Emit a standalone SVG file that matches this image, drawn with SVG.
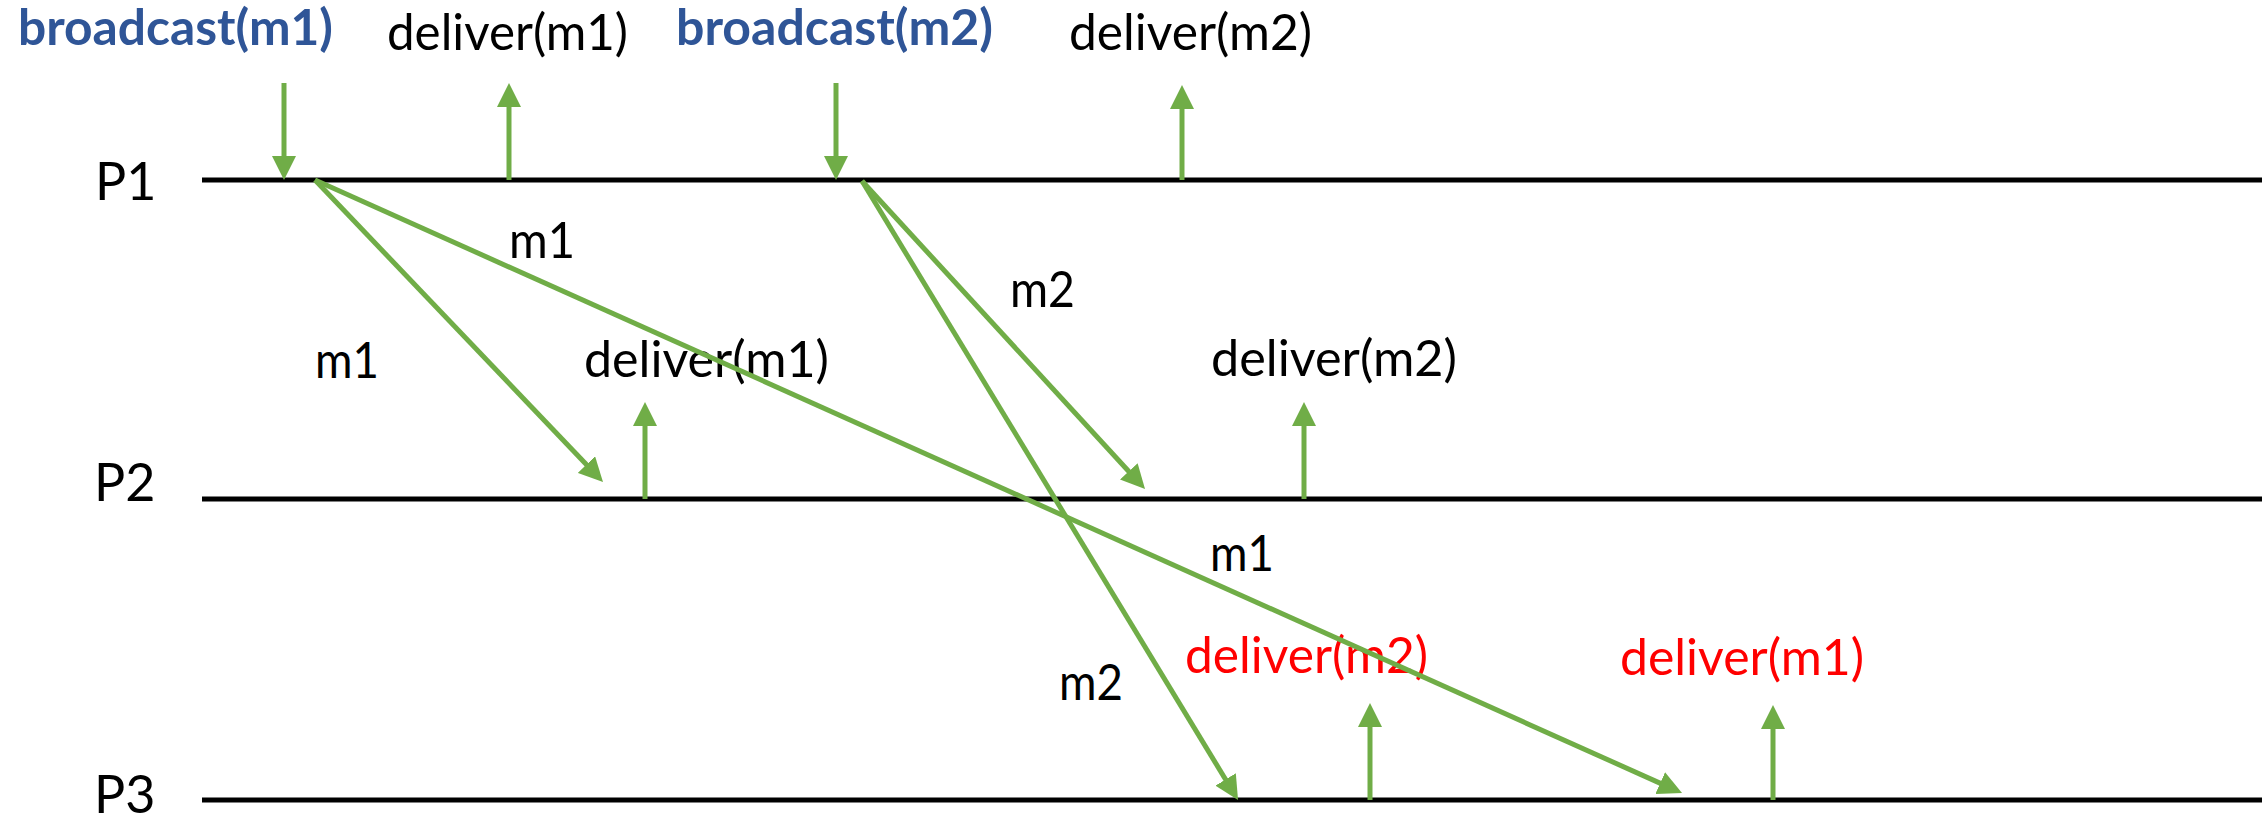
<svg xmlns="http://www.w3.org/2000/svg" width="2267" height="825" viewBox="0 0 2267 825">
  <style>
    .t { font-family: Lato, "Open Sans", "Liberation Sans", sans-serif; font-size: 50px; fill: #000; }
    .b { font-weight: bold; fill: #2F5597; }
    .r { fill: #FF0000; }
    .p { font-size: 52px; }
    .life { stroke: #000; stroke-width: 5; }
    .g { stroke: #70AD47; stroke-width: 5; fill: none; marker-end: url(#ah); }
  </style>
  <defs>
    <marker id="ah" markerUnits="userSpaceOnUse" markerWidth="24" markerHeight="24" refX="12" refY="12" orient="auto">
      <path d="M0,0 L24,12 L0,24 z" fill="#70AD47"/>
    </marker>
  </defs>
  <rect width="2267" height="825" fill="#fff"/>

  <g id="P1">
    <text class="t p" x="95" y="200">P1</text>
    <line class="life" x1="202" y1="180" x2="2262" y2="180"/>
  </g>
  <g id="P2">
    <text class="t p" x="94" y="501">P2</text>
    <line class="life" x1="202" y1="499" x2="2262" y2="499"/>
  </g>
  <g id="P3">
    <text class="t p" x="94" y="813">P3</text>
    <line class="life" x1="202" y1="800" x2="2262" y2="800"/>
  </g>

  <g id="ev-broadcast-m1">
    <text class="t b" x="18" y="45" textLength="315" lengthAdjust="spacingAndGlyphs">broadcast(m1)</text>
  </g>
  <g id="ev-p1-deliver-m1">
    <text class="t" x="387" y="50" textLength="241" lengthAdjust="spacingAndGlyphs">deliver(m1)</text>
  </g>
  <g id="ev-broadcast-m2">
    <text class="t b" x="676" y="45" textLength="317" lengthAdjust="spacingAndGlyphs">broadcast(m2)</text>
  </g>
  <g id="ev-p1-deliver-m2">
    <text class="t" x="1069" y="50" textLength="243" lengthAdjust="spacingAndGlyphs">deliver(m2)</text>
  </g>
  <g id="ev-p2-deliver-m1">
    <text class="t" x="584" y="377" textLength="245" lengthAdjust="spacingAndGlyphs">deliver(m1)</text>
  </g>
  <g id="ev-p2-deliver-m2">
    <text class="t" x="1211" y="376" textLength="246" lengthAdjust="spacingAndGlyphs">deliver(m2)</text>
  </g>
  <g id="ev-p3-deliver-m2">
    <text class="t r" x="1185" y="673" textLength="243" lengthAdjust="spacingAndGlyphs">deliver(m2)</text>
  </g>
  <g id="ev-p3-deliver-m1">
    <text class="t r" x="1620" y="675" textLength="244" lengthAdjust="spacingAndGlyphs">deliver(m1)</text>
  </g>

  <g id="labels">
    <text class="t" x="509" y="258" textLength="66" lengthAdjust="spacingAndGlyphs">m1</text>
    <text class="t" x="315" y="378" textLength="64" lengthAdjust="spacingAndGlyphs">m1</text>
    <text class="t" x="1010" y="307" textLength="65" lengthAdjust="spacingAndGlyphs">m2</text>
    <text class="t" x="1210" y="571" textLength="64" lengthAdjust="spacingAndGlyphs">m1</text>
    <text class="t" x="1059" y="700" textLength="64" lengthAdjust="spacingAndGlyphs">m2</text>
  </g>

  <g id="connectors">
    <line class="g" x1="284" y1="83" x2="284" y2="168"/>
    <line class="g" x1="509" y1="180" x2="509" y2="95"/>
    <line class="g" x1="836" y1="83" x2="836" y2="168"/>
    <line class="g" x1="1182" y1="180" x2="1182" y2="97"/>
    <line class="g" x1="645" y1="499" x2="645" y2="414"/>
    <line class="g" x1="1304" y1="499" x2="1304" y2="414"/>
    <line class="g" x1="1370" y1="800" x2="1370" y2="715"/>
    <line class="g" x1="1773" y1="800" x2="1773" y2="717"/>
    <line class="g" x1="315" y1="180" x2="594.7" y2="473.3"/>
    <line class="g" x1="315" y1="180" x2="1671.1" y2="788.1"/>
    <line class="g" x1="862" y1="181" x2="1136.9" y2="480.2"/>
    <line class="g" x1="862" y1="181" x2="1231.8" y2="789.7"/>
  </g>
</svg>
